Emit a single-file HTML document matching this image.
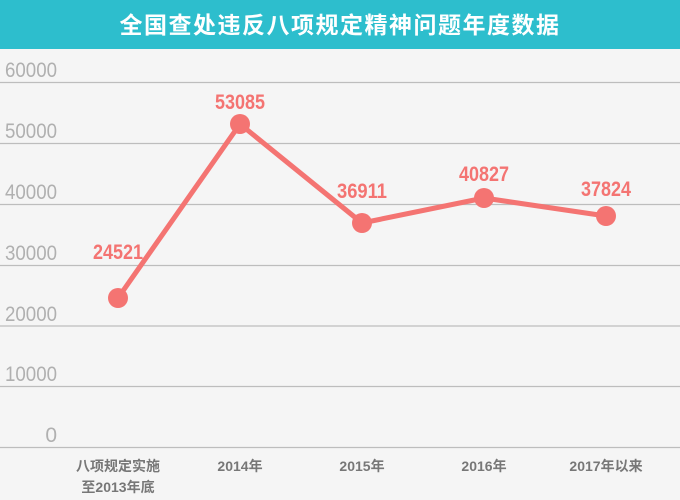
<!DOCTYPE html>
<html><head><meta charset="utf-8"><style>
body{margin:0;width:680px;height:500px;background:#f5f5f5;overflow:hidden}
</style></head><body>
<svg width="680" height="500" xmlns="http://www.w3.org/2000/svg" style="display:block">
<rect width="680" height="500" fill="#f5f5f5"/>
<rect width="680" height="49" fill="#2dbecd"/>
<text x="340" y="33" text-anchor="middle" fill="#fff" font-family="'Liberation Sans','Noto Sans CJK SC',sans-serif" font-size="23" font-weight="bold" letter-spacing="1.5">全国查处违反八项规定精神问题年度数据</text>
<g stroke="#bdbdbd" stroke-width="1.3">
<line x1="0" y1="82.5" x2="680" y2="82.5"/>
<line x1="0" y1="143.5" x2="680" y2="143.5"/>
<line x1="0" y1="204.5" x2="680" y2="204.5"/>
<line x1="0" y1="265.5" x2="680" y2="265.5"/>
<line x1="0" y1="326" x2="680" y2="326"/>
<line x1="0" y1="386.5" x2="680" y2="386.5"/>
<line x1="0" y1="447.5" x2="680" y2="447.5"/>
</g>
<g fill="#b0b0b0" font-family="'Liberation Sans Narrow','Liberation Sans',sans-serif" font-size="21" text-anchor="end">
<text x="57" y="77" textLength="52" lengthAdjust="spacingAndGlyphs">60000</text>
<text x="57" y="138" textLength="52" lengthAdjust="spacingAndGlyphs">50000</text>
<text x="57" y="199" textLength="52" lengthAdjust="spacingAndGlyphs">40000</text>
<text x="57" y="260" textLength="52" lengthAdjust="spacingAndGlyphs">30000</text>
<text x="57" y="321" textLength="52" lengthAdjust="spacingAndGlyphs">20000</text>
<text x="57" y="381" textLength="52" lengthAdjust="spacingAndGlyphs">10000</text>
<text x="57" y="442">0</text>
</g>
<polyline points="118,298 240,124 362,223 484,198 606,216" fill="none" stroke="#f47472" stroke-width="5" stroke-linejoin="round"/>
<g fill="#f47472">
<circle cx="118" cy="298" r="10"/><circle cx="240" cy="124" r="10"/><circle cx="362" cy="223" r="10"/><circle cx="484" cy="198" r="10"/><circle cx="606" cy="216" r="10"/>
</g>
<g fill="#f47472" font-family="'Liberation Sans Narrow','Liberation Sans',sans-serif" font-size="21" font-weight="bold" text-anchor="middle">
<text x="118" y="259" textLength="50" lengthAdjust="spacingAndGlyphs">24521</text>
<text x="240" y="109" textLength="50" lengthAdjust="spacingAndGlyphs">53085</text>
<text x="362" y="198" textLength="50" lengthAdjust="spacingAndGlyphs">36911</text>
<text x="484" y="181" textLength="50" lengthAdjust="spacingAndGlyphs">40827</text>
<text x="606" y="196" textLength="50" lengthAdjust="spacingAndGlyphs">37824</text>
</g>
<g fill="#777" font-family="'Liberation Sans','Noto Sans CJK SC',sans-serif" font-size="14" font-weight="bold" text-anchor="middle">
<text x="118" y="471">八项规定实施</text>
<text x="118" y="492">至2013年底</text>
<text x="240" y="471">2014年</text>
<text x="362" y="471">2015年</text>
<text x="484" y="471">2016年</text>
<text x="606" y="471">2017年以来</text>
</g>
</svg>
</body></html>
